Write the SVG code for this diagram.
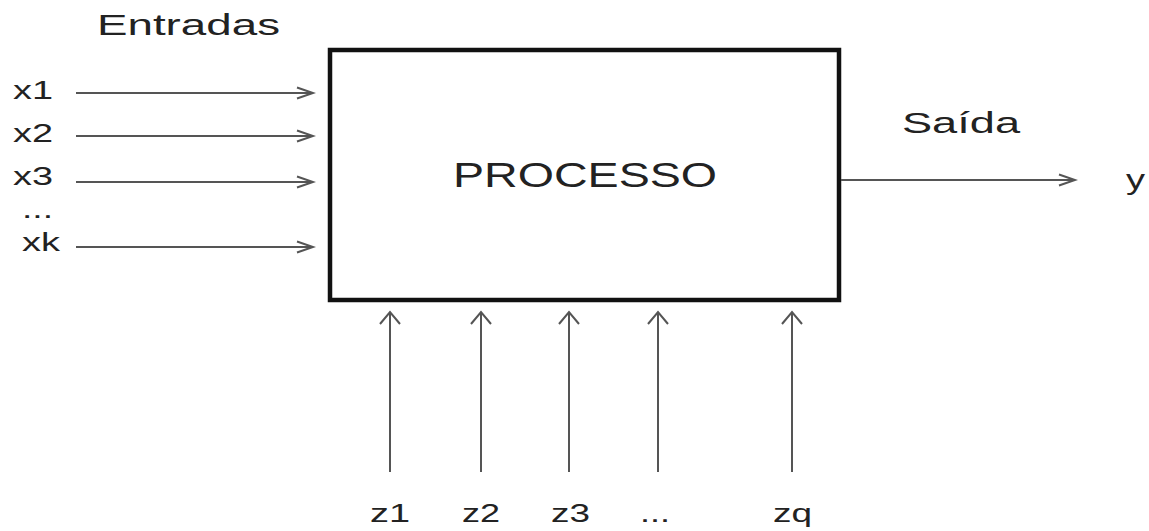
<svg xmlns="http://www.w3.org/2000/svg" width="1149" height="531" viewBox="0 0 1149 531">
  <style>
    .lbl { font-family: "Liberation Sans", Arial, sans-serif; fill: #222; }
    .conn { stroke: #555; stroke-width: 2; fill: none; }
    .box { fill: #fff; stroke: #111; stroke-width: 4.5; }
  </style>
  <defs>
    <!-- open chevron heads; horizontal ones are long and narrow, vertical ones short and wide -->
    <marker id="headH" markerUnits="userSpaceOnUse" markerWidth="20" markerHeight="14" refX="17" refY="7" orient="auto">
      <path d="M1,1.5 L17,7 L1,12.5" fill="none" stroke="#555" stroke-width="2"/>
    </marker>
    <marker id="headV" markerUnits="userSpaceOnUse" markerWidth="15" markerHeight="24" refX="13" refY="12" orient="auto">
      <path d="M1,2 L13,12 L1,22" fill="none" stroke="#555" stroke-width="2"/>
    </marker>
  </defs>
  <rect width="1149" height="531" fill="#fff"/>

  <!-- headings -->
  <text class="lbl" x="97" y="35" font-size="29" textLength="183" lengthAdjust="spacingAndGlyphs">Entradas</text>
  <text class="lbl" x="902" y="133" font-size="30" textLength="118" lengthAdjust="spacingAndGlyphs">Saída</text>

  <!-- process block -->
  <g id="processo">
    <rect class="box" x="330" y="50" width="509" height="250"/>
    <text class="lbl" x="453" y="187" font-size="35" textLength="264" lengthAdjust="spacingAndGlyphs">PROCESSO</text>
  </g>

  <!-- input labels -->
  <g id="x1"><text class="lbl" x="13" y="99" font-size="26.5" textLength="40" lengthAdjust="spacingAndGlyphs">x1</text></g>
  <g id="x2"><text class="lbl" x="13" y="142" font-size="26.5" textLength="40" lengthAdjust="spacingAndGlyphs">x2</text></g>
  <g id="x3"><text class="lbl" x="13" y="185" font-size="26.5" textLength="40" lengthAdjust="spacingAndGlyphs">x3</text></g>
  <g id="xdots"><text class="lbl" x="22" y="218" font-size="26.5" textLength="31" lengthAdjust="spacingAndGlyphs">...</text></g>
  <g id="xk"><text class="lbl" x="22" y="251" font-size="26.5" textLength="38" lengthAdjust="spacingAndGlyphs">xk</text></g>

  <!-- output label -->
  <g id="y"><text class="lbl" x="1126" y="189" font-size="28" textLength="19" lengthAdjust="spacingAndGlyphs">y</text></g>

  <!-- disturbance labels -->
  <g id="z1"><text class="lbl" x="370" y="522" font-size="26.5" textLength="40" lengthAdjust="spacingAndGlyphs">z1</text></g>
  <g id="z2"><text class="lbl" x="462" y="522" font-size="26.5" textLength="38" lengthAdjust="spacingAndGlyphs">z2</text></g>
  <g id="z3"><text class="lbl" x="551" y="522" font-size="26.5" textLength="39" lengthAdjust="spacingAndGlyphs">z3</text></g>
  <g id="zdots"><text class="lbl" x="640" y="522" font-size="26.5" textLength="30" lengthAdjust="spacingAndGlyphs">...</text></g>
  <g id="zq"><text class="lbl" x="773" y="522" font-size="26.5" textLength="39" lengthAdjust="spacingAndGlyphs">zq</text></g>

  <!-- connectors -->
  <g id="connectors">
    <line class="conn" x1="76" y1="93" x2="313" y2="93" marker-end="url(#headH)"/>
    <line class="conn" x1="76" y1="136" x2="313" y2="136" marker-end="url(#headH)"/>
    <line class="conn" x1="76" y1="182" x2="313" y2="182" marker-end="url(#headH)"/>
    <line class="conn" x1="76" y1="247" x2="313" y2="247" marker-end="url(#headH)"/>
    <line class="conn" x1="841" y1="180" x2="1075" y2="180" marker-end="url(#headH)"/>
    <line class="conn" x1="390" y1="472" x2="390" y2="312" marker-end="url(#headV)"/>
    <line class="conn" x1="481" y1="472" x2="481" y2="312" marker-end="url(#headV)"/>
    <line class="conn" x1="569" y1="472" x2="569" y2="312" marker-end="url(#headV)"/>
    <line class="conn" x1="658" y1="472" x2="658" y2="312" marker-end="url(#headV)"/>
    <line class="conn" x1="792" y1="472" x2="792" y2="312" marker-end="url(#headV)"/>
  </g>
</svg>
